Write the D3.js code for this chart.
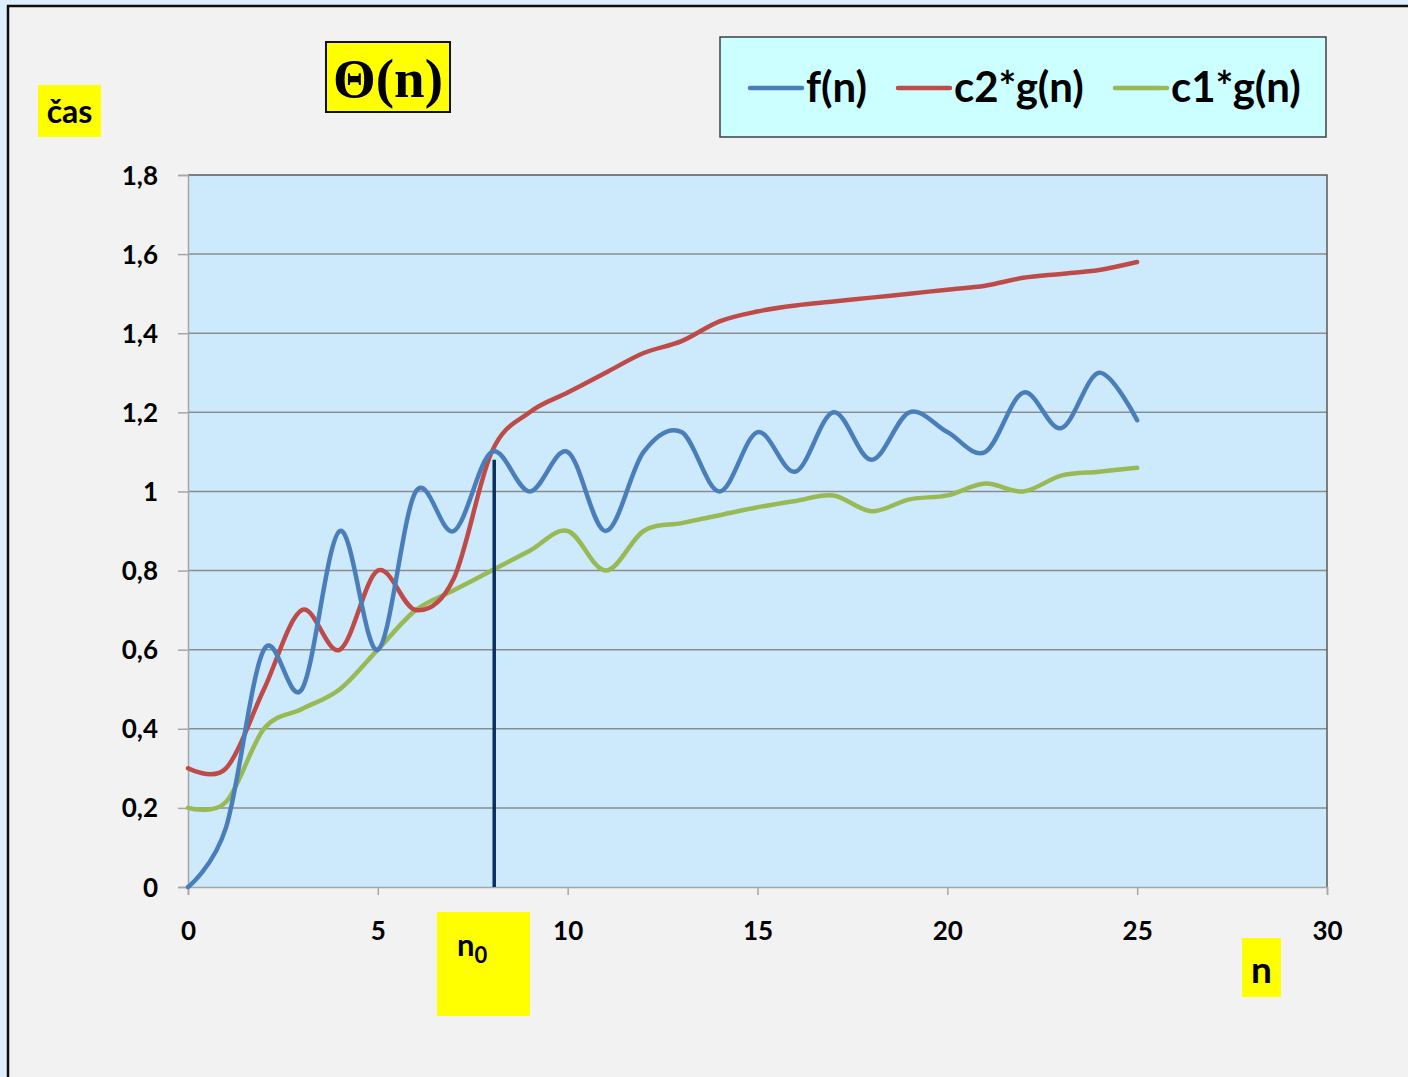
<!DOCTYPE html>
<html><head><meta charset="utf-8">
<script src="https://cdn.jsdelivr.net/npm/d3@7"></script>
<style>
html,body{margin:0;padding:0;background:#ddeeff;}
svg{display:block;}
</style></head>
<body>
<svg id="chart" width="1408" height="1077"></svg>
<script>
const nValues = [0,1,2,3,4,5,6,7,8,9,10,11,12,13,14,15,16,17,18,19,20,21,22,23,24,25];
const fValues = [0,0.15,0.6,0.5,0.9,0.6,1.0,0.9,1.1,1.0,1.1,0.9,1.1,1.15,1.0,1.15,1.05,1.2,1.08,1.2,1.15,1.1,1.25,1.16,1.3,1.18];
const c2gValues = [0.3,0.3,0.5,0.7,0.6,0.8,0.7,0.78,1.1,1.2,1.25,1.3,1.35,1.38,1.43,1.455,1.47,1.48,1.49,1.5,1.51,1.52,1.54,1.55,1.56,1.58];
const c1gValues = [0.2,0.215,0.4,0.45,0.5,0.6,0.7,0.75,0.8,0.85,0.9,0.8,0.9,0.92,0.94,0.96,0.976,0.99,0.95,0.98,0.99,1.02,1.0,1.04,1.05,1.06];
const seriesNames = ["f(n)","c2*g(n)","c1*g(n)"];
const seriesColors = ["#4a7ebb","#be4b48","#98b954"];
const xTicks = [0,5,10,15,20,25,30];
const yTicks = [0,0.2,0.4,0.6,0.8,1,1.2,1.4,1.6,1.8];
const n0 = 8, n0Height = 1.08;

const svg = d3.select("#chart");
const font = "Lato, 'Open Sans', sans-serif";

// outer frame
svg.append("rect").attr("x",8).attr("y",6).attr("width",1420).attr("height",1100)
  .attr("fill","#f2f2f2").attr("stroke","#0d0d0d").attr("stroke-width",2.5);

const L=188, R=1327, T=175, B=887;
const x = d3.scaleLinear().domain([0,30]).range([L,R]);
const y = d3.scaleLinear().domain([0,1.8]).range([B,T]);

svg.append("rect").attr("x",L).attr("y",T).attr("width",R-L).attr("height",B-T).attr("fill","#cdeafc");

// gridlines
svg.append("g").selectAll("line").data(yTicks.slice(1,-1)).join("line")
  .attr("x1",L).attr("x2",R).attr("y1",d=>y(d)).attr("y2",d=>y(d))
  .attr("stroke","#8c8c8c").attr("stroke-width",1.5);

// plot border top/right
svg.append("path").attr("d",`M${L},${T}H${R}V${B}`).attr("fill","none").attr("stroke","#595959").attr("stroke-width",1.5);

// axes
const fmt = d => String(d).replace(".",",");
const yAxis = svg.append("g").attr("transform",`translate(${L},0)`)
  .call(d3.axisLeft(y).tickValues(yTicks).tickFormat(fmt).tickSize(10).tickPadding(20));
const xAxis = svg.append("g").attr("transform",`translate(0,${B})`)
  .call(d3.axisBottom(x).tickValues(xTicks).tickFormat(d=>d).tickSize(8).tickPadding(36));
[yAxis,xAxis].forEach(a=>{
  a.selectAll(".domain").attr("stroke","#a6a6a6").attr("stroke-width",1.5);
  a.selectAll(".tick line").attr("stroke","#a6a6a6").attr("stroke-width",1.5);
  a.selectAll("text").attr("font-family",font).attr("font-weight","bold").attr("font-size",26).attr("fill","#000");
});
yAxis.selectAll("text").attr("dy","0.35em");
xAxis.selectAll("text").attr("dy","0.35em");

// series
const series = [fValues,c2gValues,c1gValues];
const line = d3.line().x((d,i)=>x(nValues[i])).y(d=>y(d)).curve(d3.curveCatmullRom.alpha(0));
const order = [2,1,0];
order.forEach(k=>{
  svg.append("path").attr("d",line(series[k])).attr("fill","none")
    .attr("stroke",seriesColors[k]).attr("stroke-width",4.5).attr("stroke-linecap","round").attr("stroke-linejoin","round");
});

// n0 vertical line
svg.append("line").attr("x1",x(n0)+2.5).attr("x2",x(n0)+2.5).attr("y1",y(0)).attr("y2",y(n0Height))
  .attr("stroke","#0b2f5e").attr("stroke-width",3.5);

// title box
svg.append("rect").attr("x",326).attr("y",42).attr("width",124).attr("height",70)
  .attr("fill","#ffff00").attr("stroke","#111").attr("stroke-width",2);
svg.append("text").attr("x",388).attr("y",97).attr("text-anchor","middle")
  .attr("font-family","'Liberation Serif','DejaVu Serif',serif").attr("font-weight","bold").attr("font-size",55)
  .text("Θ(n)");

// y label
svg.append("rect").attr("x",38).attr("y",85).attr("width",63).attr("height",52).attr("fill","#ffff00");
svg.append("text").attr("x",69.5).attr("y",123).attr("text-anchor","middle")
  .attr("font-family",font).attr("font-weight","bold").attr("font-size",32).text("čas");

// legend
svg.append("rect").attr("x",720).attr("y",37).attr("width",606).attr("height",100)
  .attr("fill","#ccffff").attr("stroke","#404040").attr("stroke-width",1.5);
const legX = [750,898,1115];
seriesNames.forEach((nm,i)=>{
  svg.append("line").attr("x1",legX[i]).attr("x2",legX[i]+52).attr("y1",88).attr("y2",88)
    .attr("stroke",seriesColors[i]).attr("stroke-width",4.5).attr("stroke-linecap","round");
  svg.append("text").attr("x",legX[i]+56).attr("y",102)
    .attr("font-family",font).attr("font-weight","bold").attr("font-size",42).text(nm);
});

// n0 label
svg.append("rect").attr("x",437).attr("y",912).attr("width",93).attr("height",104).attr("fill","#ffff00");
const n0t = svg.append("text").attr("x",457).attr("y",956)
  .attr("font-family",font).attr("font-weight","bold").attr("font-size",31);
n0t.append("tspan").text("n");
n0t.append("tspan").attr("font-size",22).attr("dy",7).text("0");

// n label
svg.append("rect").attr("x",1242).attr("y",938).attr("width",39).attr("height",59).attr("fill","#ffff00");
svg.append("text").attr("x",1261.5).attr("y",983).attr("text-anchor","middle")
  .attr("font-family",font).attr("font-weight","bold").attr("font-size",37).text("n");
</script>
</body></html>
